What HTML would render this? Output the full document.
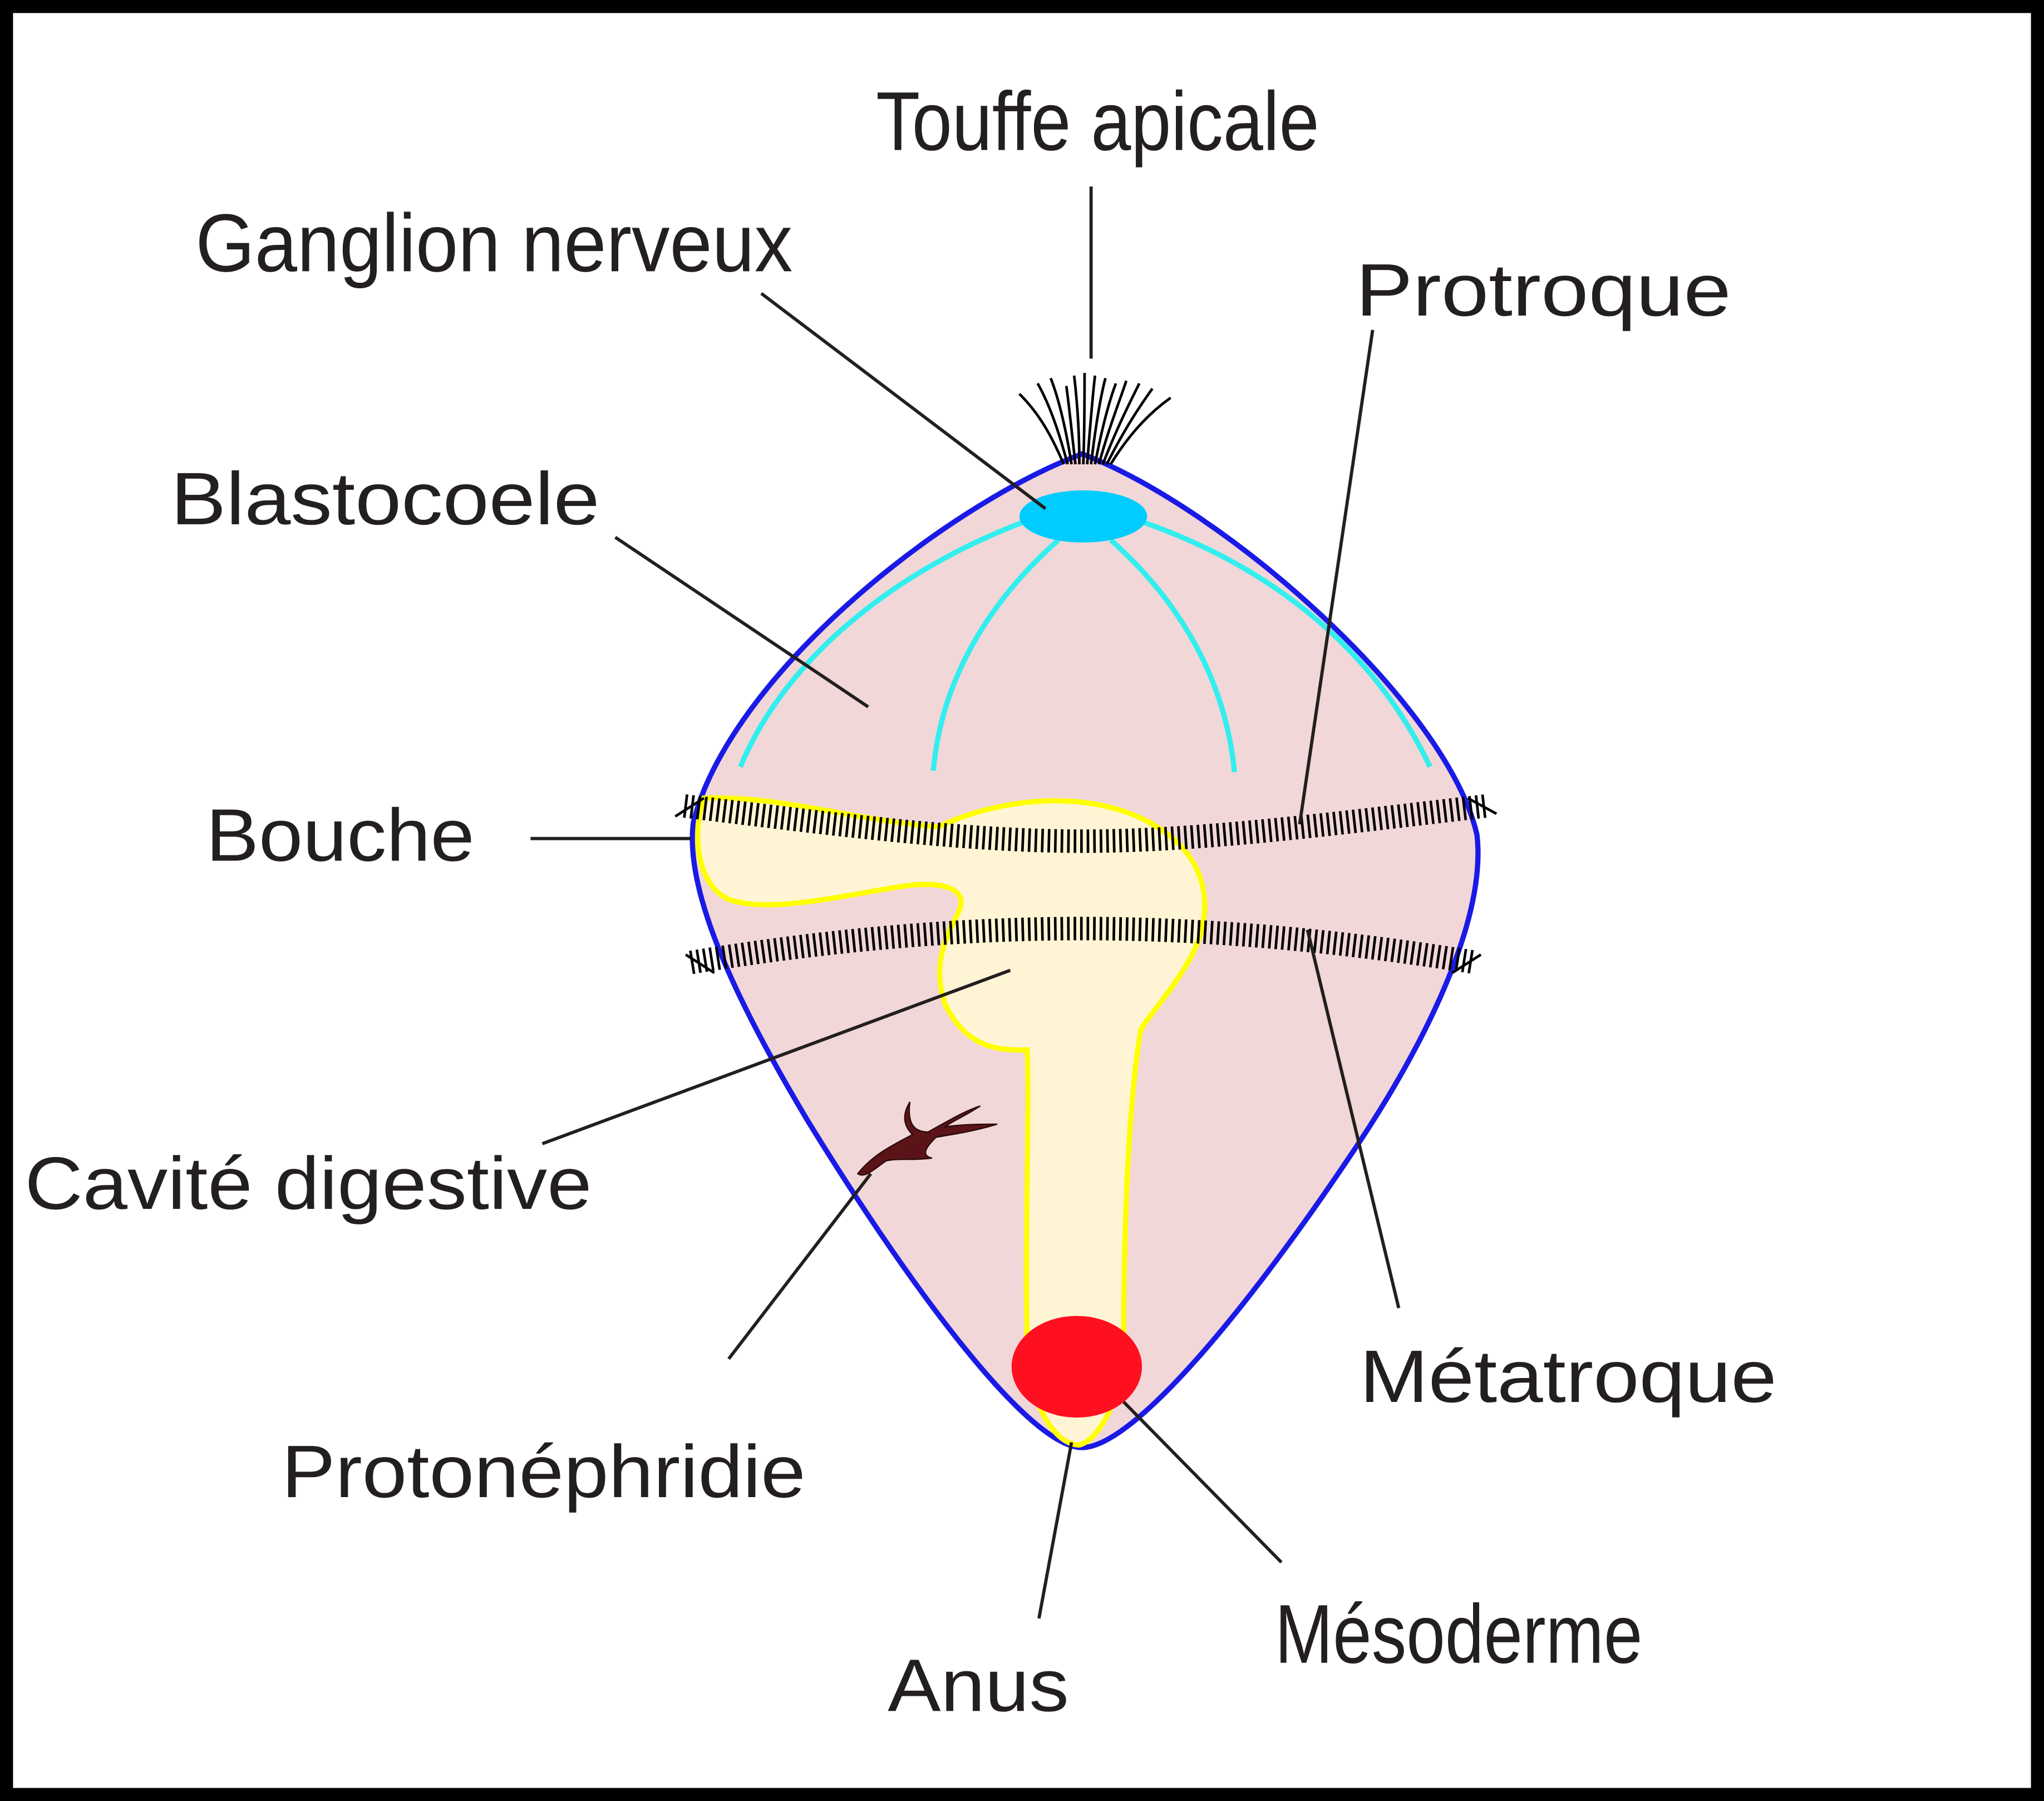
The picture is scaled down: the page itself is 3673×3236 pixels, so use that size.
<!DOCTYPE html>
<html><head><meta charset="utf-8"><style>
html,body{margin:0;padding:0;background:#fff;}
svg{display:block;}
text{font-family:"Liberation Sans","DejaVu Sans",sans-serif;fill:#231f20;}
</style></head><body>
<svg width="3673" height="3236" viewBox="0 0 1568 1381" preserveAspectRatio="none" xmlns="http://www.w3.org/2000/svg">
<rect x="5" y="5" width="1558" height="1371" fill="#fff" stroke="#000" stroke-width="10"/>
<!-- body -->
<path d="M830,348 C720,390 560,520 532,630 C525,680 560,760 620,860 C700,990 790,1110 830,1110 C870,1110 960,1000 1040,880 C1100,790 1140,700 1133,640 C1110,540 940,390 830,348 Z" fill="#f2d7d8" stroke="#1a1ae6" stroke-width="4"/>
<!-- cyan nerves -->
<g fill="none" stroke="#33eeee" stroke-width="4">
<path d="M786,400 C680,440 600,510 568,588"/>
<path d="M812,414 C760,460 722,520 716,591"/>
<path d="M852,414 C904,460 940,520 947,592"/>
<path d="M876,400 C990,440 1060,510 1097,588"/>
</g>
<ellipse cx="831" cy="396" rx="49" ry="20" fill="#00ccff"/>
<!-- apical tuft -->
<g fill="none" stroke="#000" stroke-width="2">
<path d="M816,356 C805,330 795,315 782,302"/>
<path d="M819,356 C812,330 805,310 796,294"/>
<path d="M822,356 C818,330 812,305 806,290"/>
<path d="M825,356 C822,330 820,310 818,296"/>
<path d="M828,356 C828,330 826,305 824,288"/>
<path d="M831,356 C832,330 832,305 832,286"/>
<path d="M834,356 C836,330 838,305 840,288"/>
<path d="M837,356 C840,330 844,305 848,290"/>
<path d="M840,356 C845,330 850,310 856,294"/>
<path d="M843,356 C850,330 858,310 864,292"/>
<path d="M846,356 C856,330 866,310 874,294"/>
<path d="M849,356 C862,330 874,312 884,298"/>
<path d="M852,356 C868,330 884,315 898,305"/>
</g>
<!-- gut -->
<path d="M540,612 C600,610 660,630 720,634 C760,615 820,605 870,625 C930,650 935,700 910,740 C895,765 880,780 875,790 C865,850 862,950 862,1030 C860,1080 840,1105 828,1108 C810,1108 790,1080 788,1030 C786,950 790,850 788,805 C760,806 740,800 725,770 C715,740 725,720 735,700 C745,680 720,675 690,680 C640,688 590,700 560,690 C535,680 530,640 540,612 Z" fill="#fff5d5" stroke="#ffff00" stroke-width="4"/>
<!-- cilia bands -->
<g fill="none" stroke="#000">
<path d="M525,618 C640,632 740,645 830,645 C920,645 1020,632 1140,618" stroke-width="18" stroke-dasharray="2,3"/>
<path d="M530,738 C640,720 740,712 830,712 C920,712 1020,720 1132,738" stroke-width="18" stroke-dasharray="2,3"/>
<path d="M518,626 L540,612 M1148,624 L1126,612 M526,732 L548,746 M1136,732 L1114,746" stroke-width="2"/>
</g>
<ellipse cx="826" cy="1048" rx="50" ry="39" fill="#ff1020"/>
<!-- protonephridia -->
<path d="M658,900 C670,885 685,878 700,870 C690,860 695,850 698,845 C696,860 700,868 712,868 C730,858 740,852 752,848 C740,856 730,860 725,864 C740,862 755,862 765,862 C745,868 730,870 718,872 C712,878 705,886 715,888 C700,890 690,888 680,890 C672,895 664,904 658,900 Z" fill="#5a1418" stroke="#2a0a0a" stroke-width="1"/>
<!-- leader lines -->
<g stroke="#231f20" stroke-width="2.5" fill="none">
<line x1="837" y1="143" x2="837" y2="275"/>
<line x1="584" y1="225" x2="802" y2="390"/>
<line x1="1053" y1="253" x2="997" y2="632"/>
<line x1="472" y1="412" x2="666" y2="542"/>
<line x1="407" y1="643" x2="530" y2="643"/>
<line x1="416" y1="877" x2="775" y2="744"/>
<line x1="1003" y1="713" x2="1073" y2="1003"/>
<line x1="559" y1="1042" x2="668" y2="900"/>
<line x1="797" y1="1241" x2="822" y2="1106"/>
<line x1="983" y1="1198" x2="862" y2="1075"/>
</g>
<!-- labels -->
<text x="672" y="115" font-size="64" textLength="340" lengthAdjust="spacingAndGlyphs">Touffe apicale</text>
<text x="150" y="208" font-size="63" textLength="458" lengthAdjust="spacingAndGlyphs">Ganglion nerveux</text>
<text x="1040" y="242" font-size="57" textLength="288" lengthAdjust="spacingAndGlyphs">Protroque</text>
<text x="131" y="402" font-size="57" textLength="329" lengthAdjust="spacingAndGlyphs">Blastocoele</text>
<text x="158" y="660" font-size="57" textLength="206" lengthAdjust="spacingAndGlyphs">Bouche</text>
<text x="19" y="927" font-size="57" textLength="435" lengthAdjust="spacingAndGlyphs">Cavité digestive</text>
<text x="1043" y="1075" font-size="57" textLength="320" lengthAdjust="spacingAndGlyphs">Métatroque</text>
<text x="216" y="1148" font-size="57" textLength="402" lengthAdjust="spacingAndGlyphs">Protonéphridie</text>
<text x="681" y="1312" font-size="57" textLength="139" lengthAdjust="spacingAndGlyphs">Anus</text>
<text x="978" y="1275" font-size="64" textLength="282" lengthAdjust="spacingAndGlyphs">Mésoderme</text>
</svg>
</body></html>
